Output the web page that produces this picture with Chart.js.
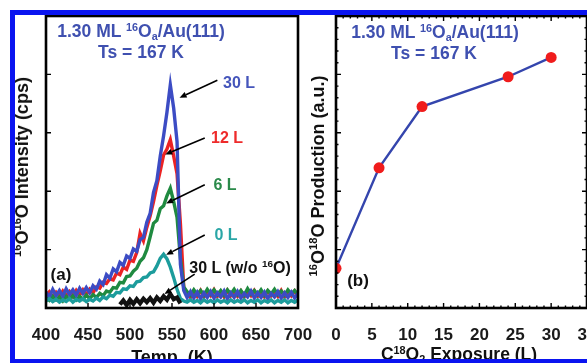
<!DOCTYPE html>
<html>
<head>
<meta charset="utf-8">
<script src="https://cdn.jsdelivr.net/npm/chart.js@4.4.1/dist/chart.umd.min.js"></script>
<style>
html, body { margin: 0; padding: 0; background: #fff; }
body { width: 587px; height: 363px; overflow: hidden; position: relative;
       font-family: 'Liberation Sans', Arial, sans-serif; font-weight: bold; }
canvas { position: absolute; top: 0; }
#ca { left: 0; }
#cb { left: 300px; }
.t { position: absolute; transform: translate(-50%, -50%); white-space: nowrap; line-height: 1; z-index: 2; }
.rot { transform: translate(-50%, -50%) rotate(-90deg); }
sup { font-size: 0.62em; vertical-align: 0.6em; line-height: 0; }
sub { font-size: 0.62em; vertical-align: -0.25em; line-height: 0; }
#frame { position: absolute; left: 10px; top: 10px; width: 600px; height: 344px;
         border: 5px solid #0a14f0; border-bottom-width: 4px; z-index: 3; pointer-events: none; }
.hdr { font-size: 17.5px; color: #3f50b0; }
</style>
</head>
<body>
<canvas id="ca" width="338" height="363"></canvas>
<canvas id="cb" width="322" height="363"></canvas>

<div class="t hdr" style="left:141px; top:32px;">1.30 ML <sup>16</sup>O<sub>a</sub>/Au(111)</div>
<div class="t hdr" style="left:141px; top:53px;">Ts = 167 K</div>
<div class="t hdr" style="left:435px; top:33px;">1.30 ML <sup>16</sup>O<sub>a</sub>/Au(111)</div>
<div class="t hdr" style="left:434px; top:54px;">Ts = 167 K</div>

<div class="t" style="left:239px; top:83px; font-size:16px; color:#4555bb;">30 L</div>
<div class="t" style="left:227px; top:138px; font-size:16px; color:#ee2b2b;">12 L</div>
<div class="t" style="left:225px; top:185px; font-size:16px; color:#2a8a4a;">6 L</div>
<div class="t" style="left:226px; top:235px; font-size:16px; color:#2aa6a6;">0 L</div>
<div class="t" style="left:240px; top:268px; font-size:16px; color:#111;">30 L (w/o <sup>16</sup>O)</div>
<div class="t" style="left:61px; top:274px; font-size:17px; color:#111;">(a)</div>
<div class="t" style="left:358px; top:280px; font-size:17px; color:#111;">(b)</div>

<div class="t" style="left:172px; top:357px; font-size:18px; color:#111;">Temp. (K)</div>
<div class="t" style="left:459px; top:355px; font-size:17.5px; color:#111;">C<sup>18</sup>O<sub>2</sub> Exposure (L)</div>
<div class="t rot" style="left:22px; top:167px; font-size:18px; color:#111;"><sup>16</sup>O<sup>16</sup>O Intensity (cps)</div>
<div class="t rot" style="left:318px; top:176px; font-size:18px; color:#111;"><sup>16</sup>O<sup>18</sup>O Production (a.u.)</div>

<div id="frame"></div>

<script>
// panel (a): TPD spectra, temperature in K
const temps = [
  400, 404, 408, 412, 416, 420, 424, 428, 432, 436,
  440, 444, 448, 452, 456, 460, 464, 468, 472, 476,
  480, 484, 488, 492, 496, 500, 504, 508, 512, 516,
  520, 524, 528, 532, 536, 540, 544, 548, 552, 556,
  560, 564, 568, 572, 576, 580, 584, 588, 592, 596,
  600, 604, 608, 612, 616, 620, 624, 628, 632, 636,
  640, 644, 648, 652, 656, 660, 664, 668, 672, 676,
  680, 684, 688, 692, 696, 700
];
const exp30L = [
  0.27, 0.19, 0.32, 0.21, 0.30, 0.20, 0.33, 0.23, 0.31, 0.22,
  0.34, 0.25, 0.35, 0.26, 0.38, 0.32, 0.46, 0.40, 0.57, 0.51,
  0.67, 0.62, 0.78, 0.73, 0.89, 0.85, 1.01, 0.97, 1.17, 1.21,
  1.47, 1.62, 1.98, 2.18, 2.60, 2.95, 3.35, 3.82, 3.42, 2.85,
  0.75, 0.30, 0.18, 0.28, 0.17, 0.27, 0.16, 0.26, 0.18, 0.28,
  0.17, 0.26, 0.19, 0.29, 0.16, 0.26, 0.18, 0.28, 0.17, 0.25,
  0.19, 0.29, 0.17, 0.26, 0.18, 0.27, 0.16, 0.25, 0.19, 0.28,
  0.17, 0.26, 0.18, 0.27, 0.17, 0.25
];
const exp12L = [
  0.22, 0.28, 0.19, 0.27, 0.20, 0.29, 0.21, 0.28, 0.20, 0.30,
  0.22, 0.31, 0.23, 0.32, 0.26, 0.36, 0.34, 0.44, 0.42, 0.50,
  0.48, 0.60, 0.57, 0.70, 0.66, 0.82, 0.80, 0.95, 1.28, 1.15,
  1.38, 1.58, 1.82, 2.10, 2.35, 2.62, 2.72, 2.88, 2.60, 2.30,
  1.45, 0.35, 0.26, 0.18, 0.29, 0.20, 0.30, 0.19, 0.27, 0.21,
  0.31, 0.20, 0.28, 0.19, 0.30, 0.21, 0.27, 0.20, 0.29, 0.19,
  0.28, 0.21, 0.30, 0.20, 0.27, 0.19, 0.29, 0.21, 0.28, 0.20,
  0.30, 0.19, 0.27, 0.21, 0.29, 0.20
];
const exp6L = [
  0.18, 0.13, 0.20, 0.14, 0.19, 0.12, 0.20, 0.15, 0.21, 0.14,
  0.20, 0.15, 0.22, 0.16, 0.23, 0.18, 0.25, 0.21, 0.29, 0.27,
  0.35, 0.34, 0.44, 0.43, 0.54, 0.55, 0.63, 0.68, 0.80, 0.86,
  1.00, 1.22, 1.45, 1.50, 1.70, 1.75, 1.92, 2.05, 1.82, 1.55,
  0.85, 0.36, 0.28, 0.22, 0.31, 0.23, 0.30, 0.22, 0.32, 0.24,
  0.31, 0.23, 0.30, 0.22, 0.31, 0.24, 0.32, 0.23, 0.30, 0.22,
  0.33, 0.24, 0.30, 0.23, 0.31, 0.22, 0.30, 0.24, 0.32, 0.23,
  0.29, 0.22, 0.31, 0.24, 0.30, 0.23
];
const exp0L = [
  0.12, 0.16, 0.11, 0.15, 0.10, 0.14, 0.11, 0.16, 0.10, 0.15,
  0.12, 0.16, 0.11, 0.15, 0.12, 0.17, 0.13, 0.19, 0.16, 0.22,
  0.20, 0.27, 0.26, 0.33, 0.32, 0.38, 0.37, 0.45, 0.46, 0.52,
  0.53, 0.60, 0.62, 0.72, 0.85, 0.92, 0.84, 0.70, 0.52, 0.32,
  0.16, 0.12, 0.10, 0.14, 0.10, 0.13, 0.09, 0.14, 0.10, 0.13,
  0.09, 0.14, 0.10, 0.13, 0.09, 0.14, 0.10, 0.13, 0.10, 0.14,
  0.09, 0.13, 0.10, 0.14, 0.09, 0.13, 0.10, 0.14, 0.09, 0.13,
  0.10, 0.14, 0.09, 0.13, 0.10, 0.14
];
const noO30L = [
  null, null, null, null, null, null, null, null, null, null,
  null, null, null, null, null, null, null, null, null, null,
  null, null, 0.06, 0.13, 0.05, 0.14, 0.07, 0.15, 0.08, 0.16,
  0.10, 0.17, 0.09, 0.18, 0.12, 0.20, 0.14, 0.24, 0.15, 0.18,
  0.08, null, null, null, null, null, null, null, null, null,
  null, null, null, null, null, null, null, null, null, null,
  null, null, null, null, null, null, null, null, null, null,
  null, null, null, null, null, null
];
const tempTicks = [400, 450, 500, 550, 600, 650, 700];

// panel (b): production vs exposure
const exposure = [0, 6, 12, 24, 30];
const production = [0.68, 2.40, 3.45, 3.96, 4.29];
const exposureTicks = [0, 5, 10, 15, 20, 25, 30, 35];

const yTicks = [0, 1, 2, 3, 4, 5];

// arrows from the labels to the curves, in data units [T, intensity]
const arrows = [
  { from: [604, 3.90], to: [559, 3.60] },
  { from: [589, 2.91], to: [542, 2.63] },
  { from: [589, 2.11], to: [543, 1.79] },
  { from: [589, 1.25], to: [543, 0.91] },
  { from: [577, 0.58], to: [541, 0.24] }
];

const font = { family: "'Liberation Sans', Arial, sans-serif", size: 17, weight: 'bold' };

function pts(xs, ys) {
  const out = [];
  xs.forEach((x, i) => { if (ys[i] !== null) out.push({ x: x, y: ys[i] }); });
  return out;
}

function series(data, color, w) {
  return { data: data, borderColor: color, borderWidth: w || 3.4, pointRadius: 0, tension: 0, fill: false };
}

// frame + inward tick marks
function frameTicks(spec) {
  return {
    id: 'frameTicks',
    afterDatasetsDraw(chart) {
      const { ctx, chartArea: a, scales: { x, y } } = chart;
      ctx.save();
      ctx.strokeStyle = '#000';
      ctx.lineWidth = 1.4;
      ctx.beginPath();
      const xs = (vals, len, sides) => vals.forEach(v => {
        const px = x.getPixelForValue(v);
        if (sides.includes('bottom')) { ctx.moveTo(px, a.bottom); ctx.lineTo(px, a.bottom - len); }
        if (sides.includes('top')) { ctx.moveTo(px, a.top); ctx.lineTo(px, a.top + len); }
      });
      const ys = (vals, len, sides) => vals.forEach(v => {
        const py = y.getPixelForValue(v);
        if (sides.includes('left')) { ctx.moveTo(a.left, py); ctx.lineTo(a.left + len, py); }
        if (sides.includes('right')) { ctx.moveTo(a.right, py); ctx.lineTo(a.right - len, py); }
      });
      xs(spec.xMajor, 5, spec.xSides);
      ys(spec.yMajor, 5, spec.ySides);
      if (spec.xMinor) xs(spec.xMinor, 2.5, spec.xSides);
      if (spec.yMinor) ys(spec.yMinor, 2.5, spec.ySides);
      ctx.stroke();
      ctx.lineWidth = 2.6;
      ctx.strokeRect(a.left, a.top, a.width, a.height);
      ctx.restore();
    }
  };
}

const arrowPlugin = {
  id: 'arrows',
  afterDatasetsDraw(chart) {
    const { ctx, scales: { x, y } } = chart;
    ctx.save();
    ctx.strokeStyle = '#000';
    ctx.fillStyle = '#000';
    ctx.lineWidth = 1.6;
    arrows.forEach(ar => {
      const x1 = x.getPixelForValue(ar.from[0]), y1 = y.getPixelForValue(ar.from[1]);
      const x2 = x.getPixelForValue(ar.to[0]), y2 = y.getPixelForValue(ar.to[1]);
      const ang = Math.atan2(y2 - y1, x2 - x1);
      const L = 7, W = 3;
      const bx = x2 - L * Math.cos(ang), by = y2 - L * Math.sin(ang);
      ctx.beginPath(); ctx.moveTo(x1, y1); ctx.lineTo(bx, by); ctx.stroke();
      ctx.beginPath();
      ctx.moveTo(x2, y2);
      ctx.lineTo(bx + W * Math.sin(ang), by - W * Math.cos(ang));
      ctx.lineTo(bx - W * Math.sin(ang), by + W * Math.cos(ang));
      ctx.closePath();
      ctx.fill();
    });
    ctx.restore();
  }
};

function baseScales(xMin, xMax, xTicks, yWidth) {
  return {
    x: {
      type: 'linear', min: xMin, max: xMax,
      afterBuildTicks: s => { s.ticks = xTicks.map(v => ({ value: v })); },
      ticks: { autoSkip: false, maxRotation: 0, padding: 17, color: '#1a1a1a', font: font },
      grid: { display: false, drawTicks: false },
      border: { display: false },
      afterFit: s => { s.height = 55; }
    },
    y: {
      type: 'linear', min: 0, max: 5,
      afterBuildTicks: s => { s.ticks = yTicks.map(v => ({ value: v })); },
      ticks: { display: false },
      grid: { display: false, drawTicks: false },
      border: { display: false },
      afterFit: s => { s.width = yWidth; }
    }
  };
}

// right padding is larger than the edge label overhang so it sets the plot edge
new Chart(document.getElementById('ca'), {
  type: 'line',
  data: {
    datasets: [
      series(pts(temps, noO30L), '#111111', 4.2),
      series(pts(temps, exp0L), '#1c9c9c'),
      series(pts(temps, exp30L), '#3c4cc4'),
      series(pts(temps, exp6L), '#1f8a40'),
      series(pts(temps, exp12L), '#ec2323')
    ]
  },
  options: {
    responsive: false, animation: false, devicePixelRatio: 1,
    layout: { padding: { top: 16, right: 40, left: 0, bottom: 0 } },
    plugins: { legend: { display: false }, tooltip: { enabled: false } },
    scales: baseScales(400, 700, tempTicks, 46)
  },
  plugins: [
    frameTicks({ xMajor: tempTicks, yMajor: [1, 2, 3, 4], xSides: ['bottom'], ySides: ['left'] }),
    arrowPlugin
  ]
});

const xMinorB = [], yMinorB = [];
for (let v = 1; v < 35; v++) if (v % 5) xMinorB.push(v);
for (let v = 1; v < 25; v++) if (v % 5) yMinorB.push(v / 5);

new Chart(document.getElementById('cb'), {
  type: 'line',
  data: {
    datasets: [{
      data: pts(exposure, production),
      borderColor: '#3445ad', borderWidth: 2.4, tension: 0, fill: false,
      pointRadius: 5.5, pointBackgroundColor: '#f01c1c', pointBorderColor: '#f01c1c', pointBorderWidth: 0
    }]
  },
  options: {
    responsive: false, animation: false, devicePixelRatio: 1,
    layout: { padding: { top: 16, right: 35, left: 0, bottom: 0 } },
    plugins: { legend: { display: false }, tooltip: { enabled: false } },
    scales: baseScales(0, 35, exposureTicks, 36)
  },
  plugins: [
    frameTicks({ xMajor: exposureTicks, yMajor: yTicks, xMinor: xMinorB, yMinor: yMinorB,
                 xSides: ['bottom', 'top'], ySides: ['left', 'right'] })
  ]
});
</script>
</body>
</html>
